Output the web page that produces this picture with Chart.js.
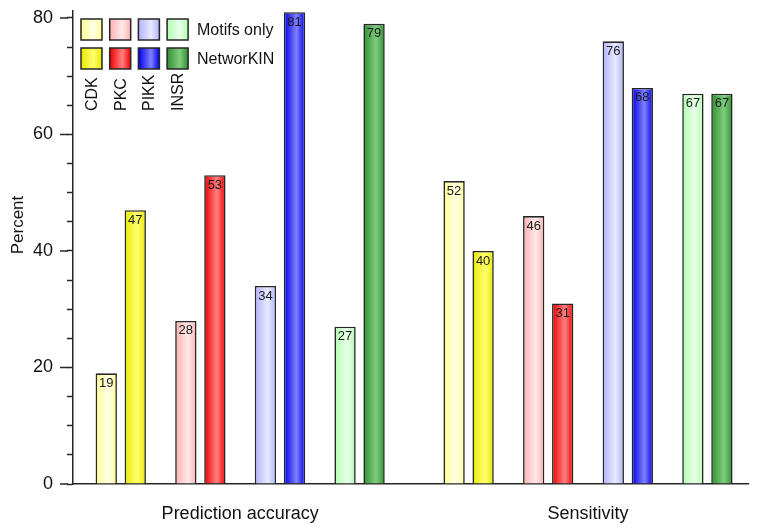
<!DOCTYPE html>
<html>
<head>
<meta charset="utf-8">
<script src="https://cdn.jsdelivr.net/npm/chart.js@4.4.0/dist/chart.umd.min.js"></script>
<style>
  html, body { margin: 0; padding: 0; background: #fff; }
  #wrap { width: 757px; height: 531px; position: relative; }
</style>
</head>
<body>
<div id="wrap"><canvas id="chart"></canvas></div>
<script>
const groups      = ['Prediction accuracy', 'Sensitivity'];
const kinases     = ['CDK', 'PKC', 'PIKK', 'INSR'];
const seriesNames = ['Motifs only', 'NetworKIN'];
// 4 kinases for "Prediction accuracy", then 4 for "Sensitivity"
const motifsOnly  = [19, 28, 34, 27, 52, 46, 76, 67];
const networkin   = [47, 53, 81, 79, 40, 31, 68, 67];
const yTicks      = [0, 20, 40, 60, 80];
const yTitle      = 'Percent';

// [edge, highlight] per kinase
const lightShades = [['#ffff8e', '#ffffe8'], ['#ffb0b0', '#ffe9e9'], ['#b2b2ff', '#e9e9ff'], ['#b0ffb0', '#e9ffe9']];
const darkShades  = [['#e8e800', '#ffff70'], ['#ee0000', '#ff8080'], ['#0000ee', '#8080ff'], ['#2f922f', '#80cc80']];

const FONT = "'Liberation Sans', Arial, Helvetica, sans-serif";
const INK  = '#262626';
const GROUP_STEP = 4.37;   // distance between the two groups, in kinase slots

const slot = i => Math.floor(i / kinases.length) * GROUP_STEP + (i % kinases.length);

function grad(ctx, x0, x1, shades) {
  const g = ctx.createLinearGradient(x0, 0, x1, 0);
  g.addColorStop(0, shades[0]);
  g.addColorStop(0.6, shades[1]);
  g.addColorStop(1, shades[0]);
  return g;
}

function noPad(s) {
  s.paddingTop = 0; s.paddingBottom = 0; s.paddingLeft = 0; s.paddingRight = 0;
}

const decor = {
  id: 'decor',
  beforeDatasetsDraw(chart) {
    const ctx = chart.ctx;
    chart.data.datasets.forEach((ds, di) => {
      chart.getDatasetMeta(di).data.forEach((bar, i) => {
        const { x, width } = bar.getProps(['x', 'width'], true);
        const shades = ds.shades[i % kinases.length];
        bar.options = Object.assign({}, bar.options, { backgroundColor: grad(ctx, x - width / 2, x + width / 2, shades) });
      });
    });
  },
  afterDatasetsDraw(chart) {
    const ctx = chart.ctx;
    ctx.save();
    ctx.font = '13px ' + FONT;
    ctx.fillStyle = '#1a1a1a';
    ctx.textAlign = 'center';
    ctx.textBaseline = 'middle';
    chart.data.datasets.forEach((ds, di) => {
      chart.getDatasetMeta(di).data.forEach((bar, i) => {
        const { x, y } = bar.getProps(['x', 'y'], true);
        ctx.fillText(String(ds.data[i].y), x, y + 10);
      });
    });
    ctx.restore();
  },
  afterDraw(chart) {
    const ctx = chart.ctx;
    const ys = chart.scales.y;
    const left = chart.chartArea.left;
    ctx.save();

    // longer major ticks
    ctx.strokeStyle = INK;
    ctx.lineWidth = 1.5;
    yTicks.forEach(v => {
      const py = ys.getPixelForValue(v);
      ctx.beginPath();
      ctx.moveTo(left - 13, py);
      ctx.lineTo(left - 5, py);
      ctx.stroke();
    });

    // y title
    ctx.fillStyle = '#111';
    ctx.font = '17px ' + FONT;
    ctx.textAlign = 'center';
    ctx.textBaseline = 'middle';
    ctx.translate(18, 225);
    ctx.rotate(-Math.PI / 2);
    ctx.fillText(yTitle, 0, 0);
    ctx.setTransform(1, 0, 0, 1, 0, 0);

    // legend: swatch grid
    const sx = 81, sy = 19, step = 28.7, rowStep = 29, sw = 21;
    [lightShades, darkShades].forEach((shadeSet, r) => {
      kinases.forEach((k, c) => {
        const x0 = sx + c * step, y0 = sy + r * rowStep;
        ctx.fillStyle = grad(ctx, x0, x0 + sw, shadeSet[c]);
        ctx.fillRect(x0, y0, sw, sw);
        ctx.strokeStyle = INK;
        ctx.lineWidth = 1.5;
        ctx.strokeRect(x0, y0, sw, sw);
      });
      ctx.fillStyle = '#111';
      ctx.font = '16px ' + FONT;
      ctx.textAlign = 'left';
      ctx.textBaseline = 'middle';
      ctx.fillText(seriesNames[r], 197, sy + r * rowStep + sw / 2 + 1);
    });
    kinases.forEach((k, c) => {
      ctx.save();
      ctx.translate(sx + c * step + sw / 2, 111);
      ctx.rotate(-Math.PI / 2);
      ctx.fillStyle = '#111';
      ctx.font = '16px ' + FONT;
      ctx.textAlign = 'left';
      ctx.textBaseline = 'middle';
      ctx.fillText(k, 0, 1);
      ctx.restore();
    });
    ctx.restore();
  }
};

new Chart(document.getElementById('chart'), {
  type: 'bar',
  data: {
    datasets: [
      {
        label: seriesNames[0],
        data: motifsOnly.map((v, i) => ({ x: slot(i), y: v })),
        shades: lightShades,
      },
      {
        label: seriesNames[1],
        data: networkin.map((v, i) => ({ x: slot(i), y: v })),
        shades: darkShades,
      },
    ].map(ds => Object.assign(ds, {
      backgroundColor: '#ffffff',
      borderColor: INK,
      borderWidth: 1.6,
      categoryPercentage: 0.729,
      barPercentage: 0.735,
    }))
  },
  options: {
    responsive: true,
    maintainAspectRatio: false,
    animation: false,
    layout: { padding: { top: 11, right: 9, left: 0, bottom: 0 } },
    plugins: { legend: { display: false }, tooltip: { enabled: false } },
    scales: {
      x: {
        type: 'linear',
        min: -0.6, max: 7.88,
        offset: false,
        grid: { display: false, drawTicks: false },
        border: { display: true, color: INK, width: 1.5 },
        afterBuildTicks: s => { s.ticks = groups.map((g, i) => ({ value: i * GROUP_STEP + 1.5 })); },
        ticks: {
          callback: (v, i) => groups[i],
          font: { size: 18, family: FONT },
          color: '#111',
          padding: 19,
          maxRotation: 0,
          autoSkip: false,
        },
        afterFit: s => { s.height = 47; noPad(s); },
      },
      y: {
        min: 0, max: 81.2,
        ticks: {
          stepSize: 5,
          includeBounds: false,
          callback: v => yTicks.includes(v) ? String(v) : '',
          font: { size: 18, family: FONT },
          color: '#111',
          padding: 14,
        },
        grid: { drawOnChartArea: false, drawTicks: true, tickLength: 6, tickColor: INK, tickWidth: 1.5 },
        border: { display: true, color: INK, width: 1.5 },
        afterFit: s => { s.width = 73; noPad(s); },
      },
    },
  },
  plugins: [decor],
});
</script>
</body>
</html>
